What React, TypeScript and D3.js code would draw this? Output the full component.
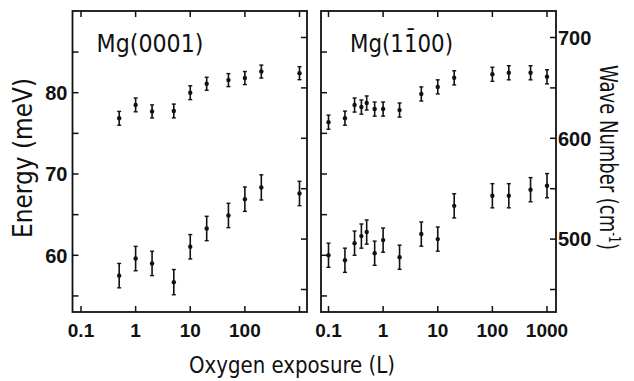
import React from "react";
import * as d3 from "d3";

// ---- data ----
const leftExposure = [0.5, 1, 2, 5, 10, 20, 50, 100, 200, 1000];
const leftUpperMeV = [76.85, 78.5, 77.7, 77.75, 80.0, 81.1, 81.55, 81.8, 82.6, 82.4];
const leftUpperErr = [0.85, 0.85, 0.8, 0.85, 0.85, 0.8, 0.8, 0.8, 0.8, 0.8];
const leftLowerMeV = [57.5, 59.6, 59.0, 56.7, 61.05, 63.3, 64.9, 66.9, 68.35, 67.6];
const leftLowerErr = [1.5, 1.5, 1.5, 1.55, 1.5, 1.5, 1.5, 1.5, 1.55, 1.5];

const rightExposure = [0.1, 0.2, 0.3, 0.4, 0.5, 0.7, 1, 2, 5, 10, 20, 100, 200, 500, 1000];
const rightUpperCm = [616, 620, 633, 631, 635, 629, 629, 628, 644, 651, 660, 663.5, 665, 665, 661];
const rightUpperErr = [7, 7, 7, 7, 7, 7, 7, 7, 7, 7, 7, 7, 7, 7, 7];
const rightLowerCm = [484, 479, 496, 503, 507, 486, 499, 482, 505, 500, 533, 543, 543, 549, 553];
const rightLowerErr = [12, 12, 12, 12, 12, 12, 12, 12, 12, 12, 12, 12, 12, 12, 12];

const xTickValues = [0.1, 1, 10, 100, 1000];
const leftXTickLabels = ["0.1", "1", "10", "100"];
const rightXTickLabels = ["0.1", "1", "10", "100", "1000"];
const energyTicks = [55, 60, 65, 70, 75, 80, 85];
const energyLabelTicks = [60, 70, 80];
const waveTicks = [450, 500, 550, 600, 650, 700];
const waveLabelTicks = [500, 600, 700];
const CM_PER_MEV = 8.0655;

const TICK_FONT = "'Liberation Sans', Arial, sans-serif";
const TITLE_FONT = "'DejaVu Sans', 'Liberation Sans', sans-serif";

const xLeft = d3.scaleLog().domain([0.1, 1000]).range([81, 299.5]);
const xRight = d3.scaleLog().domain([0.1, 1000]).range([328.5, 547]);
const y = d3.scaleLinear().domain([60, 80]).range([255.3, 92.7]);
const yw = (cm: number) => y(cm / CM_PER_MEV);

const TOP = 11;
const BOTTOM = 312;
const TL = 6;

function Frame({ x0, x1, xs, labels, leftLabels, rightLabels }: any) {
  return (
    <g>
      <rect x={x0} y={TOP} width={x1 - x0} height={BOTTOM - TOP} fill="none" stroke="#111" strokeWidth={1.8} />
      {xTickValues.map((v) => (
        <g key={"xt" + v}>
          <line x1={xs(v)} x2={xs(v)} y1={BOTTOM} y2={BOTTOM - TL} stroke="#111" strokeWidth={1.5} />
          <line x1={xs(v)} x2={xs(v)} y1={TOP} y2={TOP + TL} stroke="#111" strokeWidth={1.5} />
        </g>
      ))}
      {labels.map((l: string, i: number) => (
        <text key={"xl" + i} x={xs(xTickValues[i])} y={337} textAnchor="middle" fontFamily={TICK_FONT} fontSize={19} fontWeight="bold" fill="#111">
          {l}
        </text>
      ))}
      {energyTicks.map((v) => (
        <line key={"et" + v} x1={x0} x2={x0 + TL} y1={y(v)} y2={y(v)} stroke="#111" strokeWidth={1.5} />
      ))}
      {waveTicks.map((v) => (
        <line key={"wt" + v} x1={x1} x2={x1 - TL} y1={yw(v)} y2={yw(v)} stroke="#111" strokeWidth={1.5} />
      ))}
      {leftLabels &&
        energyLabelTicks.map((v) => (
          <text key={"el" + v} x={x0 - 5} y={y(v)} dy="0.36em" textAnchor="end" fontFamily={TICK_FONT} fontSize={20} fontWeight="bold" fill="#111">
            {v}
          </text>
        ))}
      {rightLabels &&
        waveLabelTicks.map((v) => (
          <text key={"wl" + v} x={x1 + 2} y={yw(v)} dy="0.36em" textAnchor="start" fontFamily={TICK_FONT} fontSize={20} fontWeight="bold" fill="#111">
            {v}
          </text>
        ))}
    </g>
  );
}

function Points({ xs, xv, vals, errs, toY }: any) {
  return (
    <g>
      {vals.map((v: number, i: number) => {
        const cx = xs(xv[i]);
        const y1 = toY(v - errs[i]);
        const y2 = toY(v + errs[i]);
        return (
          <g key={i}>
            <line x1={cx} x2={cx} y1={y1} y2={y2} stroke="#111" strokeWidth={1.6} />
            <line x1={cx - 2} x2={cx + 2} y1={y1} y2={y1} stroke="#111" strokeWidth={1.4} />
            <line x1={cx - 2} x2={cx + 2} y1={y2} y2={y2} stroke="#111" strokeWidth={1.4} />
            <circle cx={cx} cy={toY(v)} r={2.2} fill="#111" />
          </g>
        );
      })}
    </g>
  );
}

export default function App() {
  return (
    <svg width={634} height={381} style={{ position: "absolute", left: 0, top: 0, background: "#fff" }}>
      <rect x={0} y={0} width={634} height={381} fill="#fff" />
      <Frame x0={72.5} x1={307} xs={xLeft} labels={leftXTickLabels} leftLabels={true} rightLabels={false} />
      <Frame x0={321} x1={556} xs={xRight} labels={rightXTickLabels} leftLabels={false} rightLabels={true} />

      <Points xs={xLeft} xv={leftExposure} vals={leftUpperMeV} errs={leftUpperErr} toY={y} />
      <Points xs={xLeft} xv={leftExposure} vals={leftLowerMeV} errs={leftLowerErr} toY={y} />
      <Points xs={xRight} xv={rightExposure} vals={rightUpperCm} errs={rightUpperErr} toY={yw} />
      <Points xs={xRight} xv={rightExposure} vals={rightLowerCm} errs={rightLowerErr} toY={yw} />

      <text x={96.5} y={52} fontFamily={TITLE_FONT} fontSize={25} fill="#111" textLength={107} lengthAdjust="spacingAndGlyphs">
        Mg(0001)
      </text>
      <text x={350} y={52} fontFamily={TITLE_FONT} fontSize={25} fill="#111" textLength={103} lengthAdjust="spacingAndGlyphs">
        {"Mg(11\u030400)"}
      </text>

      <text transform="translate(32,158) rotate(-90)" textAnchor="middle" fontFamily={TITLE_FONT} fontSize={27} fill="#111" textLength={160} lengthAdjust="spacingAndGlyphs">
        Energy (meV)
      </text>
      <text transform="translate(600,157.5) rotate(90)" textAnchor="middle" fontFamily={TITLE_FONT} fontSize={25} fill="#111" textLength={185} lengthAdjust="spacingAndGlyphs">
        Wave Number (cm<tspan fontSize={15} dy={-9}>-1</tspan><tspan dy={9}>)</tspan>
      </text>
      <text x={292} y={373} textAnchor="middle" fontFamily={TITLE_FONT} fontSize={23} fill="#111" textLength={206} lengthAdjust="spacingAndGlyphs">
        Oxygen exposure (L)
      </text>
    </svg>
  );
}
